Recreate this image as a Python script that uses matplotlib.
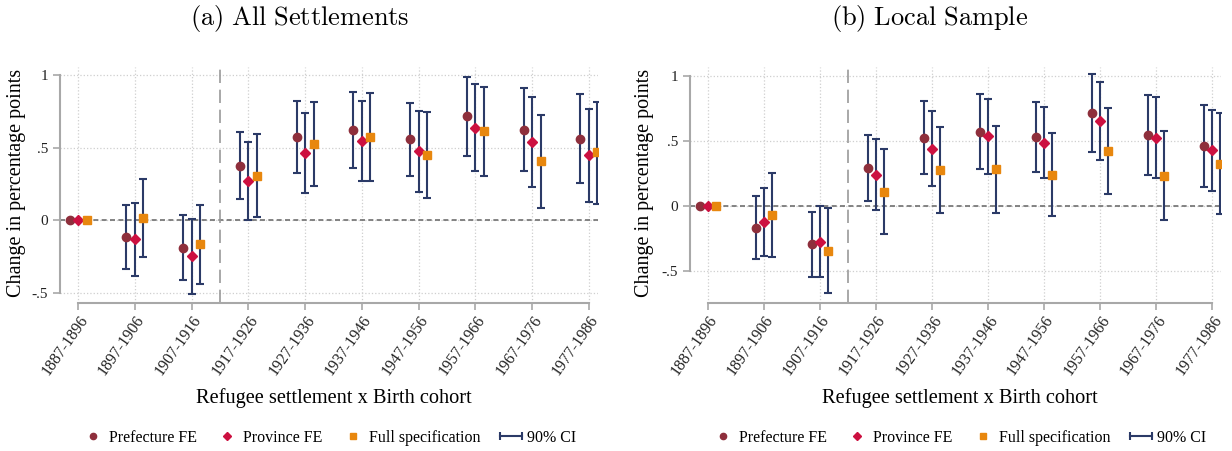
import numpy as np
import matplotlib
matplotlib.use("Agg")
import matplotlib.pyplot as plt
from matplotlib.lines import Line2D
from matplotlib.legend_handler import HandlerLine2D

plt.rcParams['font.family'] = ['Liberation Serif', 'DejaVu Serif']
plt.rcParams['mathtext.fontset'] = 'cm'

cohorts = ["1887-1896", "1897-1906", "1907-1916", "1917-1926", "1927-1936",
           "1937-1946", "1947-1956", "1957-1966", "1967-1976", "1977-1986"]
nan = np.nan

# (a) All Settlements
a_pref = [0, -0.115, -0.19, 0.375, 0.575, 0.623, 0.556, 0.715, 0.623, 0.561]
a_pref_lo = [nan, -0.336, -0.414, 0.147, 0.326, 0.361, 0.303, 0.444, 0.338, 0.257]
a_pref_hi = [nan, 0.103, 0.037, 0.605, 0.823, 0.885, 0.809, 0.986, 0.908, 0.867]
a_prov = [0, -0.133, -0.25, 0.271, 0.46, 0.547, 0.474, 0.637, 0.536, 0.446]
a_prov_lo = [nan, -0.386, -0.508, 0.002, 0.186, 0.267, 0.195, 0.34, 0.225, 0.126]
a_prov_hi = [nan, 0.12, 0.009, 0.54, 0.736, 0.823, 0.752, 0.936, 0.846, 0.768]
a_full = [0, 0.011, -0.168, 0.301, 0.522, 0.57, 0.446, 0.611, 0.405, 0.467]
a_full_lo = [nan, -0.257, -0.441, 0.018, 0.234, 0.267, 0.154, 0.306, 0.085, 0.113]
a_full_hi = [nan, 0.28, 0.103, 0.59, 0.811, 0.874, 0.743, 0.917, 0.724, 0.816]

# (b) Local Sample
b_pref = [0, -0.166, -0.294, 0.289, 0.524, 0.568, 0.527, 0.711, 0.545, 0.458]
b_pref_lo = [nan, -0.407, -0.545, 0.036, 0.243, 0.284, 0.258, 0.412, 0.24, 0.143]
b_pref_hi = [nan, 0.074, -0.043, 0.542, 0.803, 0.857, 0.795, 1.01, 0.849, 0.777]
b_prov = [0, -0.123, -0.274, 0.24, 0.44, 0.535, 0.486, 0.652, 0.524, 0.427]
b_prov_lo = [nan, -0.381, -0.545, -0.031, 0.156, 0.248, 0.212, 0.35, 0.215, 0.115]
b_prov_hi = [nan, 0.138, 0.0, 0.512, 0.726, 0.818, 0.76, 0.954, 0.834, 0.737]
b_full = [0, -0.072, -0.345, 0.107, 0.276, 0.284, 0.238, 0.422, 0.23, 0.322]
b_full_lo = [nan, -0.394, -0.67, -0.212, -0.056, -0.051, -0.077, 0.092, -0.11, -0.059]
b_full_hi = [nan, 0.251, -0.015, 0.437, 0.606, 0.614, 0.56, 0.754, 0.575, 0.711]

c_pref = "#8e2f3c"
c_prov = "#cc1040"
c_full = "#e8870e"
c_ci = "#2b3a67"
c_axis = "#a8a8a8"

fig = plt.figure(figsize=(12.32, 4.51), dpi=100)
ax1 = fig.add_axes([60/1232, 1-303/451, 538/1232, 236/451])
ax2 = fig.add_axes([690/1232, 1-303/451, 531/1232, 236/451])


def panel(ax, series, ylim):
    x = np.arange(len(cohorts))
    offs = [-0.15, 0, 0.15]
    ax.axhline(0, color="#707070", lw=1.2, ls=(0, (3, 2)), zorder=1)
    ax.axvline(2.5, color="#999999", lw=1.2, ls=(0, (8, 4)), zorder=1)
    for (val, lo, hi, col, mk, ms), d in zip(series, offs):
        val = np.array(val)
        lo = np.array(lo)
        hi = np.array(hi)
        m = ~np.isnan(lo)
        ax.errorbar(x[m] + d, val[m], yerr=[val[m] - lo[m], hi[m] - val[m]],
                    fmt="none", ecolor=c_ci, elinewidth=1.5, capsize=3,
                    capthick=1.5, zorder=2)
        ax.plot(x + d, val, ls="none", marker=mk, ms=ms, color=col,
                mec=col, zorder=3)
    ax.set_xlim(-0.32, 9.16)
    ax.set_ylim(*ylim)
    ax.set_xticks(x)
    ax.set_xticklabels(cohorts, rotation=55, ha="right",
                       rotation_mode="anchor", fontsize=11.5)
    ax.set_yticks([-0.5, 0, 0.5, 1])
    ax.set_yticklabels(["-.5", "0", ".5", "1"], fontsize=11)
    ax.grid(True, ls=":", color="#cfcfcf", lw=0.9)
    ax.set_axisbelow(True)
    for s in ["top", "right"]:
        ax.spines[s].set_visible(False)
    for s in ["left", "bottom"]:
        ax.spines[s].set_color(c_axis)
        ax.spines[s].set_linewidth(1.5)
    ax.spines["left"].set_bounds(-0.5, 1)
    ax.spines["bottom"].set_bounds(0, 9)
    ax.tick_params(axis="both", color=c_axis, width=1.2, length=5,
                   labelcolor="#222222")
    ax.tick_params(axis="x", pad=2)


panel(ax1, [(a_pref, a_pref_lo, a_pref_hi, c_pref, "o", 6),
            (a_prov, a_prov_lo, a_prov_hi, c_prov, "D", 4.8),
            (a_full, a_full_lo, a_full_hi, c_full, "s", 5.2)], (-0.572, 1.055))
panel(ax2, [(b_pref, b_pref_lo, b_pref_hi, c_pref, "o", 6),
            (b_prov, b_prov_lo, b_prov_hi, c_prov, "D", 4.8),
            (b_full, b_full_lo, b_full_hi, c_full, "s", 5.2)], (-0.745, 1.067))

fig.text(300/1232, 1-18/451, r"$\mathrm{(a)\ All\ Settlements}$",
         ha="center", va="center", fontsize=19)
fig.text(930/1232, 1-18/451, r"$\mathrm{(b)\ Local\ Sample}$",
         ha="center", va="center", fontsize=19)

for xc in [17, 645]:
    fig.text(xc/1232, 1-183/451, "Change in percentage points",
             rotation=90, ha="center", va="center", fontsize=14.5)
for xc in [334, 960]:
    fig.text(xc/1232, 1-398/451, "Refugee settlement x Birth cohort",
             ha="center", va="center", fontsize=14.7)

ci_handle = Line2D([0], [0], color=c_ci, lw=1.5, marker="|", ms=6, mew=1.5)
handles = [Line2D([0], [0], ls="none", marker="o", ms=4.5, color=c_pref),
           Line2D([0], [0], ls="none", marker="D", ms=3.8, color=c_prov),
           Line2D([0], [0], ls="none", marker="s", ms=4.2, color=c_full),
           ci_handle]
labels = ["Prefecture FE", "Province FE", "Full specification", "90% CI"]
for xc in [329, 959]:
    fig.legend(handles, labels, loc="center", ncol=4,
               bbox_to_anchor=(xc/1232, 1-438/451), frameon=False,
               fontsize=11.5, handlelength=1.4, handletextpad=0.3,
               columnspacing=1.2,
               handler_map={ci_handle: HandlerLine2D(numpoints=2, marker_pad=0)})

fig.savefig("out.png", dpi=100)
